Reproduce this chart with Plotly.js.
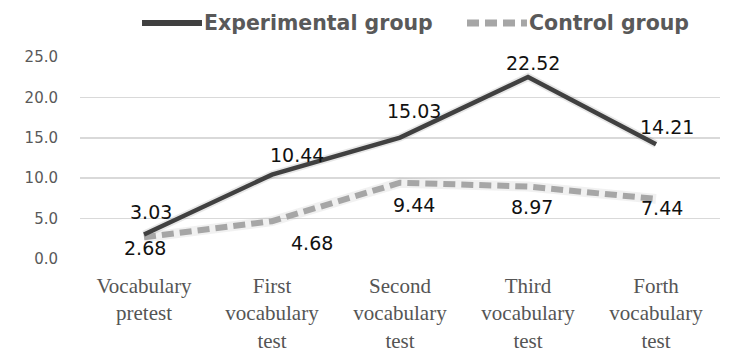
<!DOCTYPE html>
<html>
<head>
<meta charset="utf-8">
<script src="https://cdn.plot.ly/plotly-3.0.1.min.js"></script>
<style>html,body{margin:0;padding:0;background:#fff;}#chart{width:749px;height:357px;}</style>
</head>
<body>
<div id="chart"></div>
<script>
// ---- data ----
const categories = ["Vocabulary<br>pretest", "First<br>vocabulary<br>test", "Second<br>vocabulary<br>test", "Third<br>vocabulary<br>test", "Forth<br>vocabulary<br>test"];
const experimental = [3.03, 10.44, 15.03, 22.52, 14.21];
const control = [2.68, 4.68, 9.44, 8.97, 7.44];
const seriesNames = ["Experimental group", "Control group"];
const yTickVals = [0, 5, 10, 15, 20, 25];
const yTickText = ["0.0", "5.0", "10.0", "15.0", "20.0", "25.0"];

// ---- label placement (style, pixel offsets) ----
const expShiftX = [7, 25, 14, 5, 11];
const expShiftY = [23, 20, 27, 14, 17];
const ctlShiftX = [1, 40, 14, 4, 6];
const ctlShiftY = [-11, -22, -22, -20, -9];

const expColor = "#404040";
const ctlColor = "#a6a6a6";

const traces = [
  {x: categories, y: control, type: "scatter", mode: "lines", hoverinfo: "skip", showlegend: false,
   line: {color: "rgba(120,120,120,0.10)", width: 10}},
  {x: categories, y: experimental, type: "scatter", mode: "lines", hoverinfo: "skip", showlegend: false,
   line: {color: "rgba(60,60,60,0.12)", width: 8}},
  {x: categories, y: control, name: seriesNames[1], type: "scatter", mode: "lines", showlegend: false,
   line: {color: ctlColor, width: 6, dash: "12px,6px"}},
  {x: categories, y: experimental, name: seriesNames[0], type: "scatter", mode: "lines", showlegend: false,
   line: {color: expColor, width: 4.5}}
];

const labelFont = {family: "DejaVu Sans", size: 19, color: "#111111"};
const annotations = [];
experimental.forEach((v, i) => annotations.push({
  x: categories[i], y: v, xref: "x", yref: "y", text: v.toFixed(2), showarrow: false,
  xshift: expShiftX[i], yshift: expShiftY[i], font: labelFont
}));
control.forEach((v, i) => annotations.push({
  x: categories[i], y: v, xref: "x", yref: "y", text: v.toFixed(2), showarrow: false,
  xshift: ctlShiftX[i], yshift: ctlShiftY[i], font: labelFont
}));
const legFont = {family: "DejaVu Sans", size: 20.5, color: "#595959", weight: "bold"};
annotations.push({xref: "paper", yref: "paper", x: 0.1906, y: 1.168, xanchor: "left", yanchor: "middle",
  text: "<b>" + seriesNames[0] + "</b>", showarrow: false, font: legFont});
annotations.push({xref: "paper", yref: "paper", x: 0.698, y: 1.168, xanchor: "left", yanchor: "middle",
  text: "<b>" + seriesNames[1] + "</b>", showarrow: false, font: legFont});

const shapes = [
  {type: "line", xref: "paper", yref: "paper", x0: 0.0969, x1: 0.1906, y0: 1.168, y1: 1.168,
   line: {color: expColor, width: 6}},
  {type: "line", xref: "paper", yref: "paper", x0: 0.6047, x1: 0.6984, y0: 1.168, y1: 1.168,
   line: {color: ctlColor, width: 7, dash: "12px,6px"}}
];

const layout = {
  width: 749, height: 357,
  margin: {l: 80, r: 29, t: 57, b: 98},
  paper_bgcolor: "#ffffff", plot_bgcolor: "#ffffff",
  showlegend: false,
  xaxis: {type: "category", range: [-0.5, 4.5], showgrid: false, zeroline: false, showline: false,
    ticks: "", tickfont: {family: "Liberation Serif", size: 21, color: "#555555"}, ticklabelstandoff: 12, fixedrange: true},
  yaxis: {range: [0, 25], tickvals: yTickVals, ticktext: yTickText, showgrid: true, gridcolor: "#d9d9d9",
    gridwidth: 1.5, zeroline: false, showline: false, ticks: "",
    tickfont: {family: "DejaVu Sans", size: 15, color: "#595959"}, ticklabelstandoff: 21, fixedrange: true},
  annotations: annotations,
  shapes: shapes
};

Plotly.newPlot("chart", traces, layout, {displayModeBar: false, staticPlot: true});
</script>
</body>
</html>
